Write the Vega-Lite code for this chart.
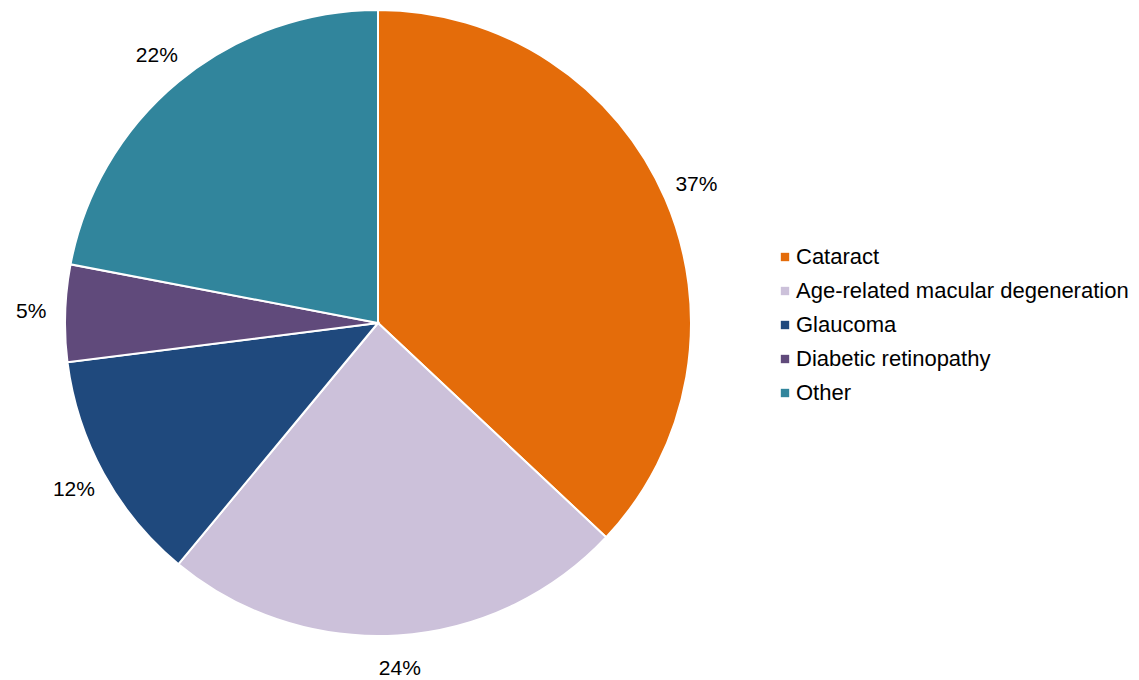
{
  "$schema": "https://vega.github.io/schema/vega-lite/v6.json",
  "width": 626,
  "height": 626,
  "autosize": {"type": "none"},
  "padding": {"left": 65, "top": 10, "right": 448, "bottom": 44},
  "background": "white",
  "data": {"values": [
    {"cause": "Cataract", "value": 37, "label": "37%", "order": 1},
    {"cause": "Age-related macular degeneration", "value": 24, "label": "24%", "order": 2},
    {"cause": "Glaucoma", "value": 12, "label": "12%", "order": 3},
    {"cause": "Diabetic retinopathy", "value": 5, "label": "5%", "order": 4},
    {"cause": "Other", "value": 22, "label": "22%", "order": 5}
  ]},
  "encoding": {
    "theta": {"field": "value", "type": "quantitative", "stack": true},
    "order": {"field": "order", "type": "quantitative"},
    "color": {
      "field": "cause", "type": "nominal",
      "sort": ["Cataract", "Age-related macular degeneration", "Glaucoma", "Diabetic retinopathy", "Other"],
      "scale": {
        "domain": ["Cataract", "Age-related macular degeneration", "Glaucoma", "Diabetic retinopathy", "Other"],
        "range": ["#E46C0A", "#CCC1DA", "#1F497D", "#604A7B", "#31859C"]
      },
      "legend": {
        "title": null,
        "orient": "none",
        "legendX": 709,
        "legendY": 236,
        "symbolType": "square",
        "symbolSize": 70,
        "symbolStrokeWidth": 0,
        "labelFont": "Liberation Sans",
        "labelFontSize": 22,
        "labelColor": "#000000",
        "labelOffset": 0,
        "rowPadding": 12,
        "labelLimit": 500
      }
    }
  },
  "layer": [
    {"mark": {"type": "arc", "stroke": "white", "strokeWidth": 2}},
    {"mark": {"type": "text", "radius": 347, "font": "Liberation Sans", "fontSize": 21, "color": "#000000"},
     "encoding": {"text": {"field": "label"}, "color": {"value": "#000000"}}}
  ],
  "config": {"view": {"stroke": null}}
}
